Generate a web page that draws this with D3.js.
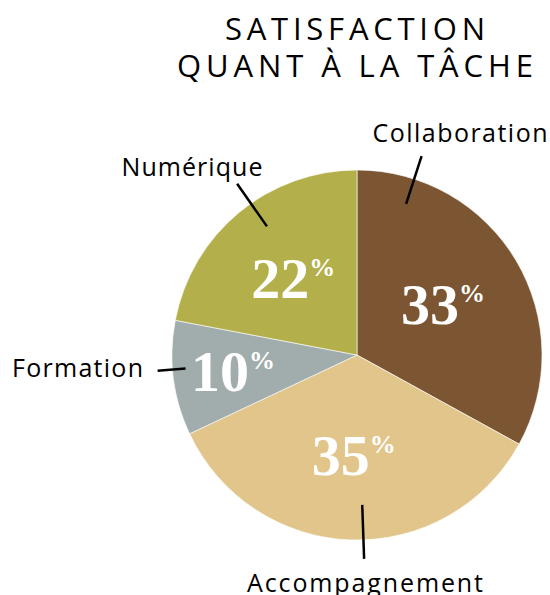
<!DOCTYPE html>
<html>
<head>
<meta charset="utf-8">
<script src="https://cdn.jsdelivr.net/npm/d3@7"></script>
<style>
  body { margin: 0; background: #fff; }
  svg text { font-family: "Open Sans", sans-serif; }
</style>
</head>
<body>
<script>
var categories = ["Collaboration", "Accompagnement", "Formation", "Numérique"];
var values = [33, 35, 10, 22];
var colors = ["#7c5633", "#e1c58a", "#a1adac", "#b3b04c"];
var titleLines = ["SATISFACTION", "QUANT À LA TÂCHE"];

var width = 550,
    height = 595,
    cx = 357,
    cy = 355,
    radius = 185;

var svg = d3.select("body").append("svg")
    .attr("width", width)
    .attr("height", height);

// reference font is wider than Open Sans, so stretch the spacing
var titleWidths = [260, 356];
svg.selectAll(".title")
    .data(titleLines)
  .enter().append("text")
    .attr("class", "title")
    .attr("x", 355)
    .attr("y", function(d, i) { return 40 + i * 37; })
    .attr("text-anchor", "middle")
    .attr("textLength", function(d, i) { return titleWidths[i]; })
    .attr("lengthAdjust", "spacing")
    .style("font-size", "31px")
    .text(function(d) { return d; });

var pie = d3.pie().sort(null);
var arcs = pie(values);

var arc = d3.arc().innerRadius(0).outerRadius(radius);

var g = svg.append("g")
    .attr("transform", "translate(" + cx + "," + cy + ")");

g.selectAll(".slice")
    .data(arcs)
  .enter().append("path")
    .attr("class", "slice")
    .attr("d", arc)
    .style("fill", function(d, i) { return colors[i]; })
    .style("stroke", "#fff")
    .style("stroke-width", 0.6);

// value labels, small slice pushed further out
var labelR = [100, 100, 125, 100];
var vals = g.selectAll(".val")
    .data(arcs)
  .enter().append("text")
    .attr("class", "val")
    .attr("transform", function(d, i) {
      var p = d3.pointRadial((d.startAngle + d.endAngle) / 2, labelR[i]);
      return "translate(" + p[0] + "," + (p[1] + 20) + ")";
    })
    .attr("text-anchor", "middle")
    .style("fill", "#fff")
    .style("font-family", "'Liberation Serif', serif")
    .style("font-weight", "bold");

vals.append("tspan")
    .style("font-size", "58px")
    .text(function(d) { return d.data; });
vals.append("tspan")
    .attr("dy", -22)
    .style("font-size", "26px")
    .text("%");

// leader lines: [angle deg, r from, r to]
var leaders = [[18, 209, 159], [178, 150, 204], [-94.5, 200, 172], [-35, 209, 157]];
g.selectAll(".leader")
    .data(leaders)
  .enter().append("line")
    .attr("class", "leader")
    .each(function(d) {
      var a = d[0] * Math.PI / 180,
          p0 = d3.pointRadial(a, d[1]),
          p1 = d3.pointRadial(a, d[2]);
      d3.select(this)
          .attr("x1", p0[0]).attr("y1", p0[1])
          .attr("x2", p1[0]).attr("y2", p1[1]);
    })
    .style("stroke", "#000")
    .style("stroke-width", 2.5);

// [x, y, anchor, width]
var catPos = [[460, 142, "middle", 175], [365, 592, "middle", 236], [143, 377, "end", 131], [192, 176, "middle", 141]];
svg.selectAll(".cat")
    .data(categories)
  .enter().append("text")
    .attr("class", "cat")
    .attr("x", function(d, i) { return catPos[i][0]; })
    .attr("y", function(d, i) { return catPos[i][1]; })
    .attr("text-anchor", function(d, i) { return catPos[i][2]; })
    .attr("textLength", function(d, i) { return catPos[i][3]; })
    .attr("lengthAdjust", "spacing")
    .style("font-size", "25px")
    .text(function(d) { return d; });
</script>
</body>
</html>
